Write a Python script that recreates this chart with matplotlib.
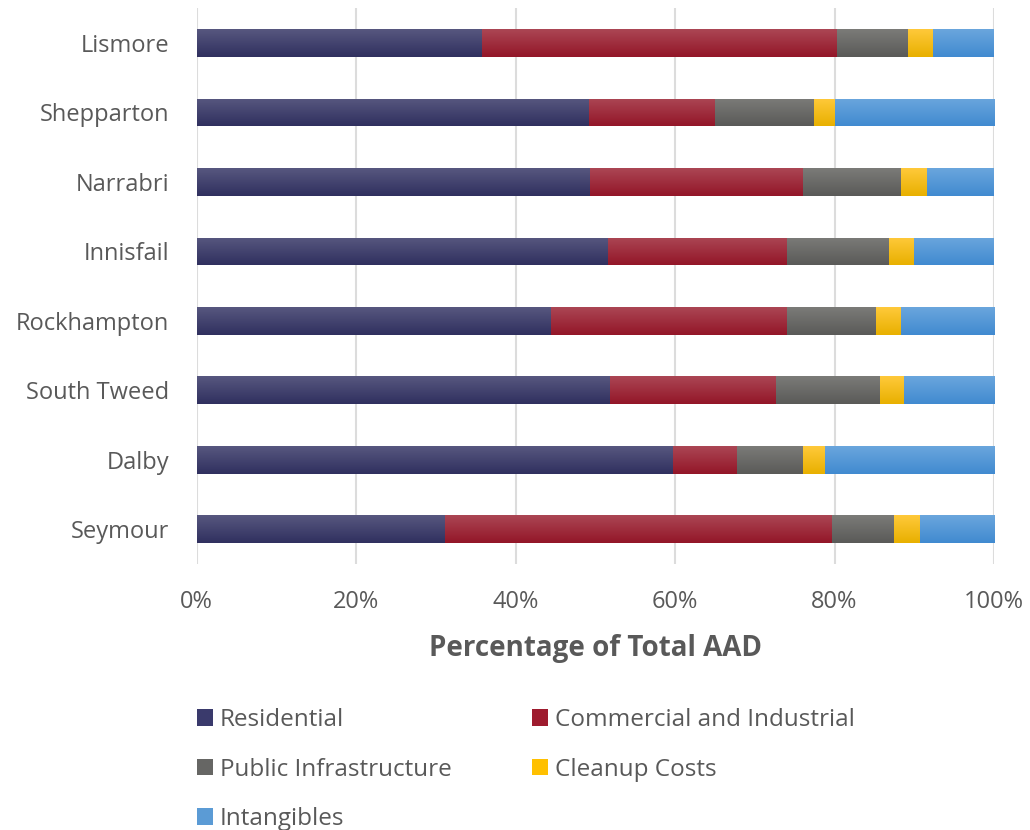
import numpy as np
import matplotlib.pyplot as plt
from matplotlib.colors import LinearSegmentedColormap
from matplotlib.patches import Patch

# Share of total AAD (%) per town, bottom-to-top in the chart
towns = ['Seymour', 'Dalby', 'South Tweed', 'Rockhampton',
         'Innisfail', 'Narrabri', 'Shepparton', 'Lismore']
residential = [31.2, 59.8, 51.9, 44.4, 51.6, 49.3, 49.2, 35.8]
commercial = [48.5, 8.0, 20.7, 29.6, 22.4, 26.7, 15.8, 44.5]
public_infra = [7.8, 8.3, 13.1, 11.2, 12.8, 12.3, 12.4, 8.9]
cleanup = [3.2, 2.7, 3.0, 3.1, 3.2, 3.3, 2.6, 3.2]
intangibles = [9.3, 21.2, 11.3, 11.7, 10.0, 8.4, 20.0, 7.6]

series = ['Residential', 'Commercial and Industrial', 'Public Infrastructure',
          'Cleanup Costs', 'Intangibles']
values = [residential, commercial, public_infra, cleanup, intangibles]
# (top, bottom) gradient colours, Excel style
grads = [('#57577f', '#30305f'),
         ('#ab4654', '#931628'),
         ('#7b7b78', '#5a5a58'),
         ('#ffc93a', '#e8b000'),
         ('#6aa6dd', '#418ad0')]
solid = ['#3a3a6c', '#9e1b2e', '#666664', '#ffc000', '#5b9bd5']

text_col = '#595959'
plt.rcParams['font.family'] = ['Open Sans', 'DejaVu Sans']

fig = plt.figure(figsize=(10.3, 8.3), dpi=100)
ax = fig.add_axes([0.191, 0.3205, 0.774, 0.6695])

y = np.arange(len(towns))
left = np.zeros(len(towns))
for vals, (top, bot) in zip(values, grads):
    bars = ax.barh(y, vals, left=left, height=0.4, color='none',
                   edgecolor='none', zorder=3)
    cmap = LinearSegmentedColormap.from_list('g', [bot, top])
    grad = np.linspace(0, 1, 64).reshape(-1, 1)
    for b in bars:
        x0, y0 = b.get_x(), b.get_y()
        im = ax.imshow(grad, cmap=cmap, aspect='auto', origin='lower',
                       extent=(x0, x0 + b.get_width(), y0, y0 + b.get_height()),
                       zorder=3)
        im.set_clip_path(b)
    left += np.array(vals)

ax.set_xlim(0, 100)
ax.set_ylim(-0.5, len(towns) - 0.5)
ax.set_xticks(np.arange(0, 101, 20))
ax.set_xticklabels([f'{v}%' for v in range(0, 101, 20)])
ax.set_yticks(y)
ax.set_yticklabels(towns)
ax.tick_params(length=0, labelsize=17, colors=text_col)
ax.tick_params(axis='x', pad=19)
ax.tick_params(axis='y', pad=20)
ax.grid(axis='x', color='#dcdcdc', linewidth=1.5, zorder=0)
for s in ax.spines.values():
    s.set_visible(False)
ax.set_xlabel('Percentage of Total AAD', fontsize=20, fontweight='bold',
              color=text_col, labelpad=14)

handles = [Patch(facecolor=c, edgecolor='none') for c in solid]
order = [0, 2, 4, 1, 3]
fig.legend([handles[i] for i in order], [series[i] for i in order],
           ncol=2, loc='upper left', bbox_to_anchor=(0.191, 0.147),
           frameon=False, fontsize=17.5, labelcolor=text_col,
           borderpad=0, borderaxespad=0,
           handlelength=0.65, handleheight=0.65, handletextpad=0.3,
           columnspacing=3.3, labelspacing=1.05)

fig.savefig('out.png', dpi=100)
